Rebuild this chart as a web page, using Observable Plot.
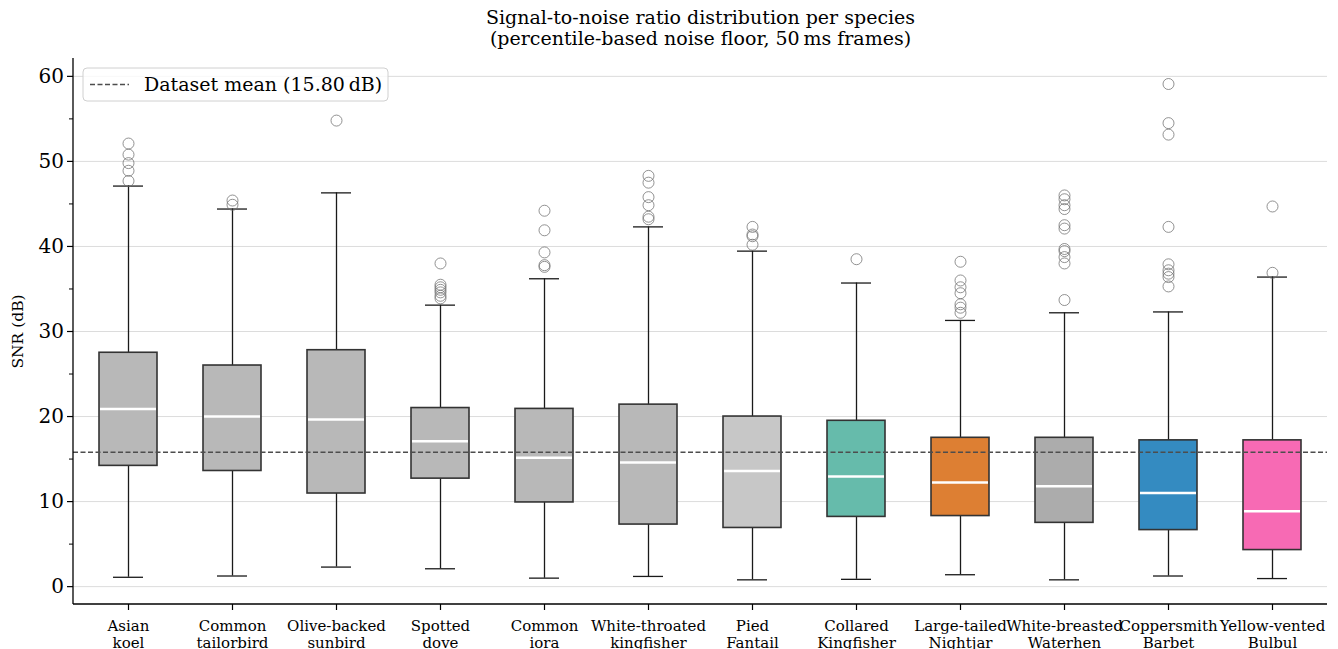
<!DOCTYPE html>
<html><head><meta charset="utf-8">
<script src="https://cdn.jsdelivr.net/npm/d3@7"></script>
<script src="https://cdn.jsdelivr.net/npm/@observablehq/plot@0.6"></script>
<style>body{margin:0;background:#fff;} svg{font-family:"DejaVu Serif",serif;}</style>
</head><body><div id="chart"></div>
<script>
const species = ["Asian koel","Common tailorbird","Olive-backed sunbird","Spotted dove","Common iora","White-throated kingfisher","Pied Fantail","Collared Kingfisher","Large-tailed Nightjar","White-breasted Waterhen","Coppersmith Barbet","Yellow-vented Bulbul"];
const tickLabels = ["Asian\nkoel","Common\ntailorbird","Olive-backed\nsunbird","Spotted\ndove","Common\niora","White-throated\nkingfisher","Pied\nFantail","Collared\nKingfisher","Large-tailed\nNightjar","White-breasted\nWaterhen","Coppersmith\nBarbet","Yellow-vented\nBulbul"];
const whiskerLow  = [1.1, 1.25, 2.3, 2.1, 1.0, 1.2, 0.8, 0.86, 1.4, 0.8, 1.25, 0.95];
const q1          = [14.2, 13.6, 10.95, 12.7, 9.9, 7.3, 6.9, 8.2, 8.3, 7.5, 6.65, 4.3];
const median      = [20.9, 20.0, 19.65, 17.1, 15.15, 14.6, 13.6, 12.95, 12.25, 11.8, 11.0, 8.85];
const q3          = [27.5, 26.0, 27.8, 21.0, 20.9, 21.4, 20.0, 19.5, 17.5, 17.5, 17.2, 17.2];
const whiskerHigh = [47.1, 44.4, 46.3, 33.1, 36.2, 42.3, 39.45, 35.7, 31.3, 32.2, 32.3, 36.4];
const boxFill     = ["#b8b8b8","#b8b8b8","#b8b8b8","#b8b8b8","#b8b8b8","#b8b8b8","#c7c7c7","#66bbab","#dd7f33","#acacac","#348bc1","#f76ab4"];
const outliers = [
  [52.1, 50.8, 49.8, 48.9, 47.7],
  [45.4, 44.9],
  [54.8],
  [38.0, 35.5, 35.2, 34.9, 34.6, 34.2, 33.9],
  [44.2, 41.9, 39.3, 37.8, 37.6],
  [48.3, 47.5, 45.8, 44.85, 43.5, 43.2],
  [42.3, 41.4, 41.2, 40.2],
  [38.5],
  [38.2, 36.0, 35.2, 34.5, 33.2, 32.8, 32.2],
  [46.0, 45.55, 44.85, 44.4, 42.5, 42.1, 39.7, 39.45, 38.75, 38.0, 33.7],
  [59.1, 54.5, 53.15, 42.3, 37.9, 37.2, 36.8, 36.4, 35.3],
  [44.7, 36.9]
];
const datasetMean = 15.80;
const yTicks = [0, 10, 20, 30, 40, 50, 60];
const yMinor = [5, 15, 25, 35, 45, 55];
const titleLines = ["Signal-to-noise ratio distribution per species", "(percentile-based noise floor, 50\u2009ms frames)"];
const yLabel = "SNR (dB)";
const legendLabel = "Dataset mean (15.80\u2009dB)";

const rows = species.map((s, i) => ({species: s, lo: whiskerLow[i], q1: q1[i], med: median[i], q3: q3[i], hi: whiskerHigh[i], fill: boxFill[i]}));
const outRows = outliers.flatMap((arr, i) => arr.map(v => ({species: species[i], v})));
const labelOf = new Map(species.map((s, i) => [s, tickLabels[i]]));

const whisk = {stroke: "#1a1a1a", strokeWidth: 1.3};
const meanStyle = {stroke: "#4d4d4d", strokeWidth: 1.3, strokeDasharray: "5,2.5"};
const svg = Plot.plot({
  width: 1338, height: 649,
  marginLeft: 73, marginRight: 11, marginTop: 58, marginBottom: 45,
  style: {fontFamily: '"DejaVu Serif", serif', fontSize: "15px", background: "#fff", color: "#000", overflow: "visible"},
  x: {type: "band", domain: species, padding: 0, align: 0.5},
  y: {domain: [-2.1, 62.1]},
  color: {type: "identity"},
  marks: [
    Plot.ruleY(yTicks, {stroke: "#dcdcdc", strokeWidth: 1}),
    Plot.ruleX(rows, {x: "species", y1: "lo", y2: "hi", ...whisk}),
    Plot.tickY(rows, {x: "species", y: "lo", insetLeft: 37, insetRight: 37, ...whisk}),
    Plot.tickY(rows, {x: "species", y: "hi", insetLeft: 37, insetRight: 37, ...whisk}),
    Plot.barY(rows, {x: "species", y1: "q1", y2: "q3", fill: "fill", stroke: "#333", strokeWidth: 1.6, insetLeft: 23, insetRight: 23}),
    Plot.tickY(rows, {x: "species", y: "med", stroke: "#fff", strokeWidth: 2.5, insetLeft: 24, insetRight: 24}),
    Plot.dot(outRows, {x: "species", y: "v", r: 5.5, stroke: "#707070", strokeOpacity: 0.85, fill: "none", strokeWidth: 0.9}),
    Plot.ruleY([datasetMean], meanStyle),
    Plot.axisY({ticks: yTicks, tickSize: 6, tickPadding: 3.5, fontSize: 20, label: null, tickFormat: d => d, stroke: "#000", strokeWidth: 1.2}),
    Plot.axisY({ticks: yMinor, tickSize: 4, tickFormat: () => "", label: null, stroke: "#000", strokeWidth: 1}),
    Plot.axisX({tickSize: 6, tickPadding: 9, fontSize: 15, lineHeight: 1.1, label: null, tickFormat: d => labelOf.get(d), stroke: "#000", strokeWidth: 1.2}),
    Plot.text([yLabel], {frameAnchor: "left", textAnchor: "middle", rotate: -90, dx: -55, fontSize: 15.5}),
    Plot.text([titleLines[0]], {frameAnchor: "top", lineAnchor: "middle", dy: -41, fontSize: 19}),
    Plot.text([titleLines[1]], {frameAnchor: "top", lineAnchor: "middle", dy: -20, fontSize: 19})
  ]
});

// spines (left and bottom), at the plotting frame's edges
const xr = svg.scale("x").range, yr = svg.scale("y").range;
const root = d3.select(svg);
root.append("line").attr("x1", xr[0]).attr("x2", xr[0]).attr("y1", yr[0]).attr("y2", yr[1])
  .attr("stroke", "#000").attr("stroke-width", 1.3);
root.append("line").attr("x1", xr[0]).attr("x2", xr[1]).attr("y1", yr[0]).attr("y2", yr[0])
  .attr("stroke", "#000").attr("stroke-width", 1.3);

// legend box (top-left of the plotting area)
const lg = root.append("g").attr("transform", `translate(${xr[0] + 10},${yr[1] + 10})`);
lg.append("rect").attr("width", 305).attr("height", 33).attr("rx", 4)
  .attr("fill", "#fff").attr("fill-opacity", 0.8).attr("stroke", "#d0d0d0").attr("stroke-width", 1);
lg.append("line").attr("x1", 7).attr("x2", 46).attr("y1", 16.5).attr("y2", 16.5)
  .attr("stroke", meanStyle.stroke).attr("stroke-width", meanStyle.strokeWidth).attr("stroke-dasharray", meanStyle.strokeDasharray);
lg.append("text").attr("x", 61).attr("y", 16.5).attr("dy", "0.35em").attr("text-anchor", "start")
  .attr("font-size", 19).attr("fill", "#000").text(legendLabel);

document.getElementById("chart").appendChild(svg);
</script>
</body></html>
